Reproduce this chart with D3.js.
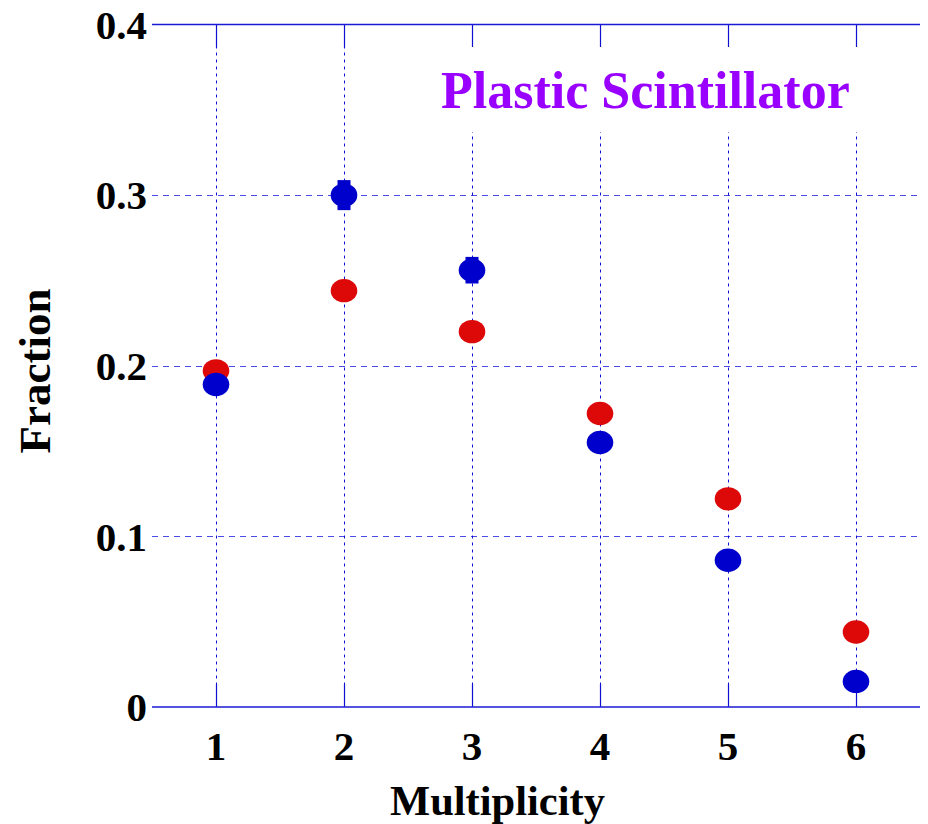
<!DOCTYPE html>
<html>
<head>
<meta charset="utf-8">
<script src="https://cdn.jsdelivr.net/npm/d3@7"></script>
<style>
  html, body { margin: 0; padding: 0; background: #fff; }
  svg { display: block; }
</style>
</head>
<body>
<script>
// ---- data ----
const multiplicity = [1, 2, 3, 4, 5, 6];
const redValues  = [0.197, 0.244, 0.220, 0.172, 0.122, 0.044];
const redErrors  = [0.003, 0.004, 0.004, 0.003, 0.003, 0.002];
const blueValues = [0.189, 0.300, 0.256, 0.155, 0.086, 0.015];
const blueErrors = [0.005, 0.0088, 0.0078, 0.005, 0.004, 0.002];
const yTicks = [0, 0.1, 0.2, 0.3, 0.4];
const yTickLabels = ["0", "0.1", "0.2", "0.3", "0.4"];
const xTickLabels = ["1", "2", "3", "4", "5", "6"];
const titleText = "Plastic Scintillator";
const xTitle = "Multiplicity";
const yTitle = "Fraction";

const W = 928, H = 824;
const pLeft = 152, pRight = 920, pTop = 24.5, pBottom = 707;
const serif = "'Liberation Serif', 'Times New Roman', serif";

const svg = d3.select("body").append("svg").attr("width", W).attr("height", H);

const x = d3.scaleLinear().domain([0.5, 6.5]).range([pLeft, pRight]);
const y = d3.scaleLinear().domain([0, 0.4]).range([pBottom, pTop]);

// horizontal grid (inner)
svg.append("g").selectAll("line").data(yTicks.filter(d => d > 0 && d < 0.4)).join("line")
  .attr("x1", pLeft).attr("x2", pRight)
  .attr("y1", d => Math.round(y(d)) + 0.5).attr("y2", d => Math.round(y(d)) + 0.5)
  .attr("stroke", "#4a4ae6").attr("stroke-width", 1).attr("stroke-dasharray", "6,5");

// vertical grid
svg.append("g").selectAll("line").data(multiplicity).join("line")
  .attr("x1", d => Math.round(x(d)) + 0.5).attr("x2", d => Math.round(x(d)) + 0.5)
  .attr("y1", pTop).attr("y2", pBottom)
  .attr("stroke", "#1010d0").attr("stroke-width", 1).attr("stroke-dasharray", "3,4");

// ticks top and bottom
const tickG = svg.append("g").attr("stroke", "#1010d0").attr("stroke-width", 1.2);
tickG.selectAll("line.b").data(multiplicity).join("line").attr("class", "b")
  .attr("x1", d => Math.round(x(d)) + 0.5).attr("x2", d => Math.round(x(d)) + 0.5)
  .attr("y1", pBottom).attr("y2", pBottom - 23);
tickG.selectAll("line.t").data(multiplicity).join("line").attr("class", "t")
  .attr("x1", d => Math.round(x(d)) + 0.5).attr("x2", d => Math.round(x(d)) + 0.5)
  .attr("y1", pTop).attr("y2", pTop + 23);

// top and bottom axis lines
svg.append("line").attr("x1", pLeft).attr("x2", pRight)
  .attr("y1", y(0.4)).attr("y2", y(0.4)).attr("stroke", "#1a1ad4").attr("stroke-width", 1.3);
svg.append("line").attr("x1", pLeft).attr("x2", pRight)
  .attr("y1", y(0)).attr("y2", y(0)).attr("stroke", "#1a1ad4").attr("stroke-width", 1.3);

// y tick labels
svg.append("g").selectAll("text").data(yTicks).join("text")
  .attr("x", 147).attr("y", d => y(d))
  .attr("dy", "0.35em")
  .attr("text-anchor", "end")
  .attr("font-family", serif).attr("font-weight", "bold").attr("font-size", 41)
  .attr("fill", "#000")
  .text((d, i) => yTickLabels[i]);

// x tick labels
svg.append("g").selectAll("text").data(multiplicity).join("text")
  .attr("x", d => x(d)).attr("y", 760)
  .attr("text-anchor", "middle")
  .attr("font-family", serif).attr("font-weight", "bold").attr("font-size", 41)
  .attr("fill", "#000")
  .text((d, i) => xTickLabels[i]);

// axis titles
svg.append("text").attr("x", 497.5).attr("y", 815)
  .attr("text-anchor", "middle")
  .attr("font-family", serif).attr("font-weight", "bold").attr("font-size", 42.5)
  .text(xTitle);
svg.append("text")
  .attr("transform", "translate(50,371) rotate(-90)")
  .attr("text-anchor", "middle")
  .attr("font-family", serif).attr("font-weight", "bold").attr("font-size", 45)
  .text(yTitle);

// title box + title
svg.append("rect").attr("x", 425).attr("y", 47).attr("width", 455).attr("height", 85).attr("fill", "#fff");
svg.append("text").attr("x", 441).attr("y", 108)
  .attr("font-family", serif).attr("font-weight", "bold").attr("font-size", 52)
  .attr("fill", "#9900ff")
  .text(titleText);

// series
function drawSeries(vals, errs, color) {
  const g = svg.append("g");
  g.selectAll("rect").data(multiplicity).join("rect")
    .attr("x", d => x(d) - 6.5).attr("width", 13)
    .attr("y", (d, i) => y(vals[i] + errs[i]))
    .attr("height", (d, i) => y(vals[i] - errs[i]) - y(vals[i] + errs[i]))
    .attr("fill", color);
  g.selectAll("ellipse").data(multiplicity).join("ellipse")
    .attr("cx", d => x(d)).attr("cy", (d, i) => y(vals[i]))
    .attr("rx", 13.3).attr("ry", 11.7)
    .attr("fill", color);
}
drawSeries(redValues, redErrors, "#dd0808");
drawSeries(blueValues, blueErrors, "#0000cc");
</script>
</body>
</html>
